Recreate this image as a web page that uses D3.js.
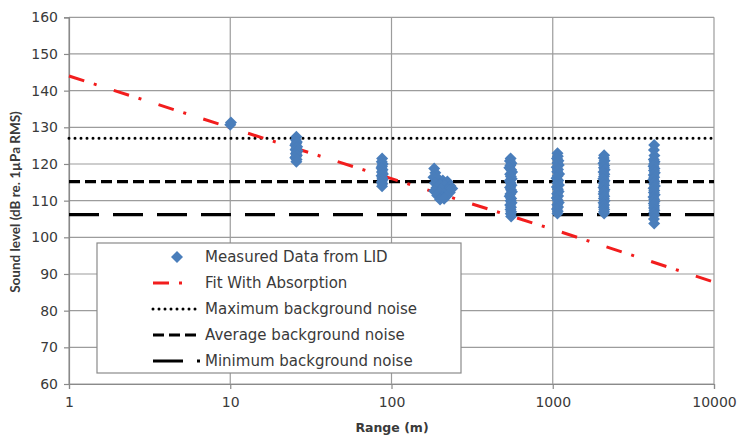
<!DOCTYPE html>
<html>
<head>
<meta charset="utf-8">
<script src="https://cdn.jsdelivr.net/npm/d3@7"></script>
<style>
  html, body { margin: 0; padding: 0; background: #fff; }
  svg { display: block; font-family: "DejaVu Sans", sans-serif; }
</style>
</head>
<body>
<svg id="chart" width="739" height="438"></svg>
<script>
// Measured LID sound levels, [range (m), level (dB re. 1µPa RMS)], grouped by station
const lid10 = [[10.0, 130.7], [10.1, 131.3]];
const lid25 = [[25.7,127.4],[25.5,126.6],[25.9,126.0],[25.6,125.5],[25.3,125.1],[26.0,124.7],[25.7,124.3],[25.4,123.9],
  [26.1,123.6],[25.8,123.2],[25.5,122.8],[25.9,122.4],[25.6,122.0],[25.3,121.7],[25.8,121.2],[25.7,120.6]];
const lid87 = [[87.5,121.5],[87.0,120.6],[88.2,120.0],[87.4,119.4],[86.6,118.9],[88.0,118.4],[87.2,117.8],[88.5,117.3],
  [86.8,116.8],[87.6,116.2],[88.1,115.7],[87.0,115.1],[87.8,114.6],[87.4,113.9]];
const lid200 = [[184,118.8],[187,117.6],[182,116.4],[195,116.0],[208,115.5],[222,115.2],[186,114.8],[200,114.4],
  [215,114.2],[232,114.0],[190,113.5],[205,113.2],[225,113.0],[238,113.3],[184,112.6],[198,112.3],[212,112.0],
  [230,112.2],[192,111.4],[206,111.0],[220,111.3],[200,110.3],[212,110.5]];
const lid550 = [[548,121.5],[542,120.8],[555,120.2],[546,119.6],[538,119.0],[552,118.4],[560,117.8],[544,117.2],
  [550,116.6],[557,116.0],[540,115.4],[548,114.8],[555,114.2],[543,113.6],[551,113.0],[559,112.4],[546,111.8],
  [540,111.2],[553,110.6],[548,110.0],[556,109.4],[544,108.8],[551,108.2],[547,107.6],[553,107.0],[549,106.4],[552,105.7]];
const lid1070 = [[1070,122.9],[1075,122.1],[1062,121.5],[1085,120.9],[1068,120.3],[1090,119.7],[1058,119.1],[1078,118.5],
  [1065,117.9],[1095,117.3],[1072,116.7],[1055,116.1],[1083,115.5],[1068,114.9],[1092,114.3],[1060,113.7],[1076,113.1],
  [1088,112.5],[1064,111.9],[1080,111.3],[1058,110.7],[1073,110.1],[1090,109.5],[1066,108.9],[1079,108.3],[1062,107.7],
  [1074,107.1],[1069,106.5]];
const lid2080 = [[2083,122.4],[2070,121.6],[2095,120.9],[2060,120.2],[2088,119.6],[2075,119.0],[2100,118.4],[2065,117.8],
  [2090,117.2],[2078,116.6],[2058,116.0],[2096,115.4],[2072,114.8],[2085,114.2],[2062,113.6],[2093,113.0],[2076,112.4],
  [2068,111.8],[2089,111.2],[2074,110.6],[2097,110.0],[2064,109.4],[2082,108.8],[2071,108.2],[2087,107.6],[2077,107.0],
  [2083,106.5]];
const lid4250 = [[4257,125.2],[4240,123.8],[4270,122.3],[4230,121.2],[4285,120.6],[4250,120.0],[4215,119.4],[4275,118.8],
  [4240,118.2],[4295,117.6],[4225,117.0],[4262,116.4],[4205,115.8],[4280,115.2],[4245,114.6],[4300,114.0],[4220,113.4],
  [4265,112.8],[4235,112.2],[4290,111.6],[4210,111.0],[4255,110.4],[4275,109.8],[4230,109.2],[4260,108.6],[4245,108.0],
  [4270,107.4],[4250,106.8],[4262,106.1],[4240,105.0],[4257,103.8]];
const measured = [lid10, lid25, lid87, lid200, lid550, lid1070, lid2080, lid4250];

// Spreading-loss fit with absorption, read at each decade of range
const fitRange = [1, 10, 100, 1000, 10000];
const fitLevel = [144.0, 129.9, 116.0, 102.2, 87.8];

// Background noise levels (dB)
const noiseMax = 127;
const noiseAvg = 115.2;
const noiseMin = 106.2;

// Axis ticks and text
const yTicks = [60, 70, 80, 90, 100, 110, 120, 130, 140, 150, 160];
const xTicks = [1, 10, 100, 1000, 10000];
const xTitle = "Range (m)";
const yTitle = "Sound level (dB re. 1\u00B5Pa RMS)";
const legendLabels = ["Measured Data from LID", "Fit With Absorption", "Maximum background noise",
  "Average background noise", "Minimum background noise"];

const svg = d3.select("#chart");
const plot = { left: 69, right: 714, top: 17.3, bottom: 384 };

const x = d3.scaleLog().domain([1, 10000]).range([plot.left, plot.right]);
const y = d3.scaleLinear().domain([60, 160]).range([plot.bottom, plot.top]);

const gridColor = "#9c9c9c";
const textColor = "#3a3a3a";
const blue = "#4a7ebb";
const red = "#f21d1d";

// Grid
const grid = svg.append("g");
grid.selectAll("line.h").data(yTicks).join("line")
  .attr("x1", plot.left).attr("x2", plot.right)
  .attr("y1", d => y(d)).attr("y2", d => y(d))
  .attr("stroke", gridColor).attr("stroke-width", 1.2);
grid.selectAll("line.v").data(xTicks).join("line")
  .attr("x1", d => x(d)).attr("x2", d => x(d))
  .attr("y1", plot.top).attr("y2", plot.bottom)
  .attr("stroke", gridColor).attr("stroke-width", 1.2);

// Axes
const yAxis = svg.append("g").attr("transform", `translate(${plot.left},0)`)
  .call(d3.axisLeft(y).tickValues(yTicks).tickSize(5).tickPadding(6).tickFormat(d3.format("d")));
const xAxis = svg.append("g").attr("transform", `translate(0,${plot.bottom})`)
  .call(d3.axisBottom(x).tickValues(xTicks).tickSize(5).tickPadding(8).tickFormat(d3.format("d")));
[yAxis, xAxis].forEach(a => {
  a.select(".domain").attr("stroke", "#8a8a8a").attr("stroke-width", 1.2);
  a.selectAll(".tick line").attr("stroke", "#8a8a8a").attr("stroke-width", 1.2);
  a.selectAll(".tick text").attr("fill", textColor).style("font-size", "14px").style("font-family", "'DejaVu Sans', sans-serif");
});

// Background noise lines
const noiseStyles = [
  { v: noiseMax, dash: "0,6", cap: "round", w: 3 },
  { v: noiseAvg, dash: "11,5", cap: "butt", w: 3.2 },
  { v: noiseMin, dash: "30,14", cap: "butt", w: 3.2 }
];
svg.append("g").selectAll("line").data(noiseStyles).join("line")
  .attr("x1", plot.left).attr("x2", plot.right)
  .attr("y1", d => y(d.v)).attr("y2", d => y(d.v))
  .attr("stroke", "#000").attr("stroke-width", d => d.w)
  .attr("stroke-dasharray", d => d.dash).attr("stroke-linecap", d => d.cap);

// Fit line
const fitData = fitRange.map((r, i) => [r, fitLevel[i]]);
svg.append("path").datum(fitData)
  .attr("d", d3.line().x(d => x(d[0])).y(d => y(d[1])))
  .attr("fill", "none").attr("stroke", red).attr("stroke-width", 3)
  .attr("stroke-dasharray", "16,10,3,18");

// Measured points
const diamond = "M0,-6L6,0L0,6L-6,0Z";
svg.append("g").selectAll("path").data(measured.flat()).join("path")
  .attr("d", diamond)
  .attr("transform", d => `translate(${x(d[0])},${y(d[1])})`)
  .attr("fill", blue);

// Axis titles
svg.append("text").text(xTitle)
  .attr("x", 392).attr("y", 432).attr("text-anchor", "middle")
  .attr("fill", textColor).style("font-size", "12.5px").style("font-weight", "bold");
svg.append("text").text(yTitle)
  .attr("transform", "translate(15,202) rotate(-90)")
  .attr("text-anchor", "middle").attr("dominant-baseline", "central")
  .attr("fill", textColor).style("font-family", "Lato, sans-serif")
  .style("font-size", "13.5px").style("font-weight", "bold");

// Legend
const lg = svg.append("g");
lg.append("rect").attr("x", 97).attr("y", 243).attr("width", 364).attr("height", 130)
  .attr("fill", "#fff").attr("stroke", "#8a8a8a").attr("stroke-width", 1.2);
const rowY = i => 257 + i * 26;
const sx0 = 153, sx1 = 200;
lg.append("path").attr("d", diamond).attr("transform", `translate(177,${rowY(0)})`).attr("fill", blue);
lg.append("line").attr("x1", sx0).attr("x2", sx1).attr("y1", rowY(1)).attr("y2", rowY(1))
  .attr("stroke", red).attr("stroke-width", 3).attr("stroke-dasharray", "16,10,3,18");
noiseStyles.forEach((s, i) => {
  lg.append("line").attr("x1", sx0).attr("x2", sx1).attr("y1", rowY(i + 2)).attr("y2", rowY(i + 2))
    .attr("stroke", "#000").attr("stroke-width", s.w)
    .attr("stroke-dasharray", s.dash).attr("stroke-linecap", s.cap);
});
lg.selectAll("text").data(legendLabels).join("text")
  .attr("x", 205).attr("y", (d, i) => rowY(i)).attr("dominant-baseline", "central")
  .attr("fill", textColor).style("font-size", "15px").text(d => d);
</script>
</body>
</html>
